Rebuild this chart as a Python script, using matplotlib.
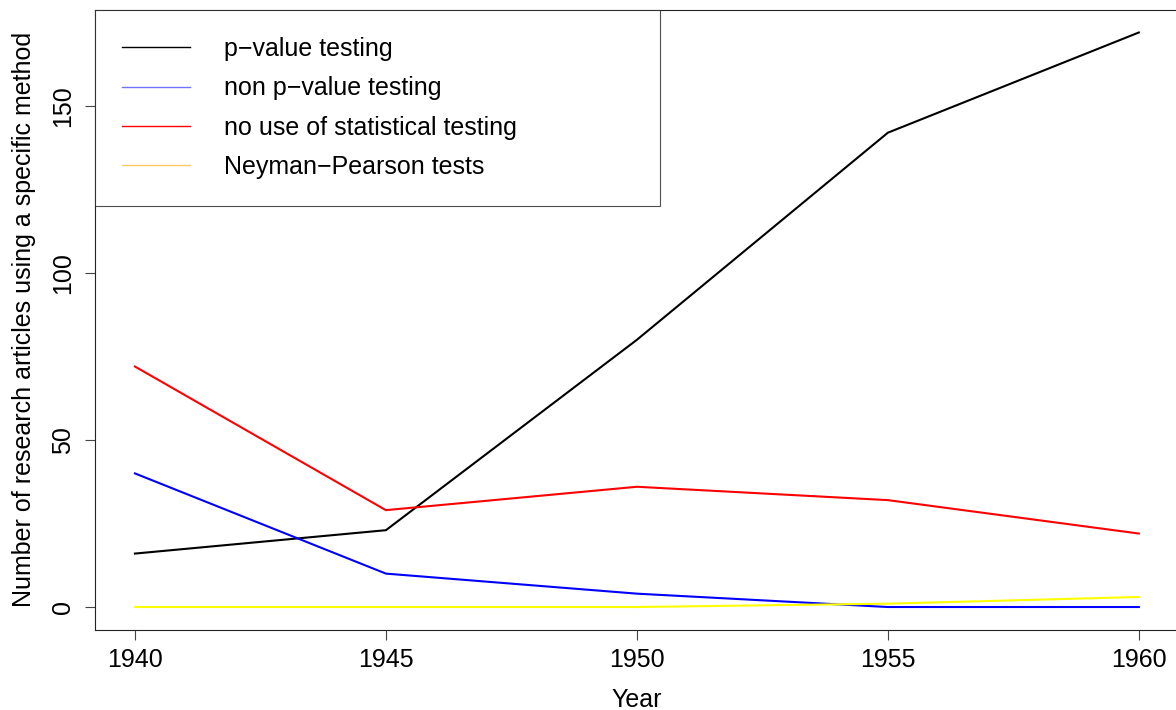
import matplotlib.pyplot as plt
from matplotlib.lines import Line2D

plt.rcParams['font.family'] = ['Liberation Sans', 'DejaVu Sans']

# Data
years = [1940, 1945, 1950, 1955, 1960]
p_value = [16, 23, 80, 142, 172]
non_p_value = [40, 10, 4, 0, 0]
no_testing = [72, 29, 36, 32, 22]
neyman_pearson = [0, 0, 0, 1, 3]

labels = ["p\u2212value testing", "non p\u2212value testing",
          "no use of statistical testing", "Neyman\u2212Pearson tests"]
line_colors = ["black", "blue", "red", "yellow"]
legend_colors = ["black", "#7373ff", "red", "#ffc860"]

fig = plt.figure(figsize=(11.76, 7.10), dpi=100)
ax = fig.add_axes([94.8 / 1176, 80 / 710, (1179 - 94.8) / 1176, (630 - 9.5) / 710])

series = [p_value, non_p_value, no_testing, neyman_pearson]
for vals, col in zip(series, line_colors):
    ax.plot(years, vals, color=col, lw=1.5, solid_joinstyle='miter')

ax.set_xlim(1939.2, 1960.8)
ax.set_ylim(-6.88, 178.88)
ax.set_xticks(years)
ax.set_yticks([0, 50, 100, 150])

fs = 18
for s in ax.spines.values():
    s.set_linewidth(0.8)
    s.set_color('#222222')
ax.spines['right'].set_visible(False)
ax.tick_params(axis='both', length=7, width=0.8, color='#444444', labelsize=fs)
ax.tick_params(axis='x', pad=6)
ax.tick_params(axis='y', pad=7)
for t in ax.get_yticklabels():
    t.set_rotation(90)
    t.set_va('center')

ax.set_xlabel("Year", fontsize=fs)
ax.set_ylabel("Number of research articles using a specific method", fontsize=fs)
ax.xaxis.set_label_coords(0.5, -0.093)
ax.yaxis.set_label_coords(-0.054, 0.5)

handles = [Line2D([], [], color=c, lw=1.0) for c in legend_colors]
leg = ax.legend(handles, labels, loc='upper left', bbox_to_anchor=(0, 0, 0.521, 1.0),
                mode='expand', fontsize=fs, frameon=True, fancybox=False,
                borderaxespad=0, borderpad=1.1, handlelength=2.7, handletextpad=1.35,
                labelspacing=0.61)
leg.get_frame().set_edgecolor('#222222')
leg.get_frame().set_linewidth(0.8)

fig.savefig("out.png", dpi=100)
